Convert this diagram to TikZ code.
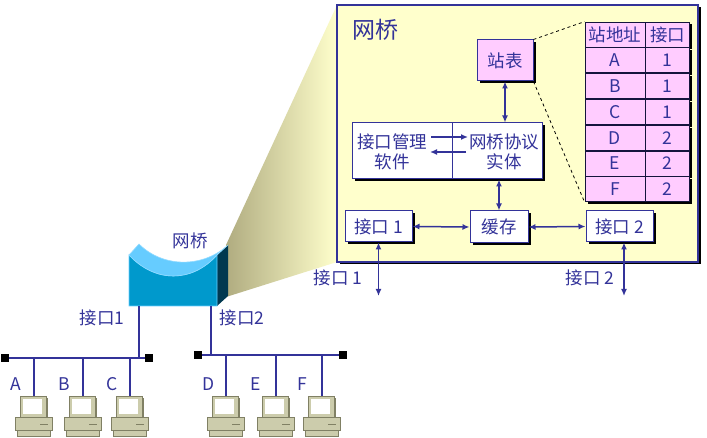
\documentclass[tikz,border=0pt]{standalone}
\usepackage{fontspec}
\setmainfont{Noto Sans CJK SC}
\usetikzlibrary{shadows,positioning,arrows.meta}

\definecolor{navy}{RGB}{51,51,153}
\definecolor{pinkfill}{RGB}{255,204,255}
\definecolor{boxyellow}{RGB}{255,255,204}
\definecolor{fanleft}{RGB}{176,172,128}
\definecolor{fanright}{RGB}{255,255,204}
\definecolor{bridgefront}{RGB}{0,153,204}
\definecolor{bridgetop}{RGB}{102,204,255}
\definecolor{bridgeside}{RGB}{0,56,80}
\definecolor{pcbody}{RGB}{204,204,172}
\definecolor{pcdark}{RGB}{128,128,100}

\tikzstyle{shadowed} = [drop shadow={shadow xshift=2.5pt, shadow yshift=-2.5pt, opacity=1, fill=black}]
\tikzstyle{zoombox} = [draw=navy, line width=1.2pt, fill=boxyellow, inner sep=0pt, minimum width=361pt, minimum height=257pt, shadowed]
\tikzstyle{box} = [draw=navy, line width=1pt, fill=white, text centered, inner sep=0pt, minimum height=31pt, shadowed]
\tikzstyle{pinkbox} = [box, fill=pinkfill]
\tikzstyle{cell} = [draw=black!60!navy, line width=0.8pt, fill=pinkfill, inner sep=0pt, minimum height=25pt, shadowed]
\tikzstyle{link} = [draw=navy, line width=1.5pt, {Latex[length=7pt,width=6pt]}-{Latex[length=7pt,width=6pt]}]
\tikzstyle{onelink} = [draw=navy, line width=1.5pt, -{Latex[length=7pt,width=6pt]}]
\tikzstyle{bus} = [draw=navy, line width=1.6pt]
\tikzstyle{term} = [fill=black, inner sep=0pt, minimum size=8pt]

\tikzset{
  pc/.pic={
    \coordinate (-top) at (0,0);
    \fill[pcdark] (-12,2) rectangle (14,23);
    \filldraw[fill=pcbody, draw=pcdark, line width=0.6pt] (-14,0) rectangle (12,21);
    \fill[white] (-11,3) rectangle (8,18);
    \filldraw[fill=pcbody, draw=pcdark, line width=0.6pt] (-19,21) rectangle (18,34);
    \filldraw[fill=pcbody, draw=pcdark, line width=0.6pt] (-17,34) rectangle (16,40);
    \draw[pcdark, line width=1pt] (6,28) -- (14,28);
  }
}

\begin{document}
\begin{tikzpicture}[x=1pt, y=-1pt, color=navy, font=\fontsize{17.5}{20}\selectfont]
  \useasboundingbox (0,0) rectangle (707,438);

  % beam from the bridge to the enlarged view
  \shade[left color=fanleft, right color=fanright] (226,245) -- (337,5) -- (337,262) -- (226,297) -- cycle;
  \node[zoombox] (zoom) at (517.5,133.5) {};
  \node[anchor=west, font=\fontsize{23}{27}\selectfont] (title) at (349,30) {网桥};

  % inside the bridge
  \node[pinkbox, minimum width=56pt, minimum height=41pt] (tab) at (505,60.5) {站表};
  \node[box, minimum width=190pt, minimum height=56pt] (mid) at (447,151) {};
  \draw[navy, line width=0.6pt] ([xshift=101pt]mid.north west) -- ([xshift=101pt]mid.south west);
  \node[align=center] (mgmttext) at (392,152) {接口管理\\软件};
  \node[align=center] (prototext) at (504,152) {网桥协议\\实体};
  \node[box, minimum width=58pt, minimum height=32pt] (buffer) at (499,227) {缓存};
  \node[box, minimum width=67pt] (if1) at (378.5,226.5) {接口 1};
  \node[box, minimum width=67pt] (if2) at (619.5,226.5) {接口 2};

  % station table
  \node[cell, minimum width=60pt] (h1) at (615,34.5) {站地址};
  \node[cell, minimum width=44pt, right=0pt of h1] (h2) {接口};
  \node[cell, minimum width=60pt, below=0pt of h1] (a1) {A};
  \node[cell, minimum width=44pt, right=0pt of a1] (a2) {1};
  \node[cell, minimum width=60pt, below=0pt of a1] (b1) {B};
  \node[cell, minimum width=44pt, right=0pt of b1] (b2) {1};
  \node[cell, minimum width=60pt, below=0pt of b1] (c1) {C};
  \node[cell, minimum width=44pt, right=0pt of c1] (c2) {1};
  \node[cell, minimum width=60pt, below=0pt of c1] (d1) {D};
  \node[cell, minimum width=44pt, right=0pt of d1] (d2) {2};
  \node[cell, minimum width=60pt, below=0pt of d1] (e1) {E};
  \node[cell, minimum width=44pt, right=0pt of e1] (e2) {2};
  \node[cell, minimum width=60pt, below=0pt of e1] (f1) {F};
  \node[cell, minimum width=44pt, right=0pt of f1] (f2) {2};

  \draw[dashed, black, line width=0.8pt] (tab.north east) -- (h1.north west);
  \draw[dashed, black, line width=0.8pt] (tab.south east) -- (f1.south west);

  \draw[link] (tab.south) -- (tab.south |- mid.north);
  \draw[onelink] (431,137) -- (468,137);
  \draw[onelink] (466,152) -- (430,152);
  \draw[link] (buffer.north |- mid.south) -- (buffer.north);
  \draw[link] (if1.east) -- (buffer.west);
  \draw[link] (buffer.east) -- (if2.west);

  \coordinate (out1) at (if1.south |- 0,296);
  \coordinate (out2) at (624,296);
  \draw[link] (if1.south) -- (out1);
  \draw[link] (if2.south -| out2) -- (out2);
  \node (out1label) at (338,278) {接口 1};
  \node (out2label) at (590,278) {接口 2};

  % bridge icon
  \fill[bridgeside] (217,255) -- (228,245) -- (228,296) -- (217,306) -- cycle;
  \filldraw[fill=bridgefront, draw=bridgetop, line width=0.6pt] (129,306) -- (129,255) .. controls (155,283) and (192,283) .. (217,255) -- (217,306) -- cycle;
  \filldraw[fill=bridgetop, draw=bridgetop!70!white, line width=0.6pt] (129,255) -- (139,244) .. controls (163,268) and (203,268) .. (228,245) -- (217,255) .. controls (192,283) and (155,283) .. (129,255);
  \node (bridgelabel) at (190,241) {网桥};
  \coordinate (br1) at (139,306);
  \coordinate (br2) at (211,306);
  \node (port1) at (102,318) {接口1};
  \node (port2) at (242,318) {接口2};

  % segment 1
  \node[term] (t1) at (5,358) {};
  \node[term] (t2) at (149,358) {};
  \draw[bus] (t1) -- (t2);
  \draw[bus] (br1) -- (br1 |- t1);
  \pic (pcA) at (34,396) {pc};
  \pic (pcB) at (83,396) {pc};
  \pic (pcC) at (130,396) {pc};
  \draw[bus] (pcA-top |- t1) -- (pcA-top);
  \draw[bus] (pcB-top |- t1) -- (pcB-top);
  \draw[bus] (pcC-top |- t1) -- (pcC-top);
  \node (la) at (16,384) {A};
  \node (lb) at (64,384) {B};
  \node (lc) at (112,384) {C};

  % segment 2
  \node[term] (t3) at (198,355) {};
  \node[term] (t4) at (343,355) {};
  \draw[bus] (t3) -- (t4);
  \draw[bus] (br2) -- (br2 |- t3);
  \pic (pcD) at (226,396) {pc};
  \pic (pcE) at (276,396) {pc};
  \pic (pcF) at (322,396) {pc};
  \draw[bus] (pcD-top |- t3) -- (pcD-top);
  \draw[bus] (pcE-top |- t3) -- (pcE-top);
  \draw[bus] (pcF-top |- t3) -- (pcF-top);
  \node (ld) at (209,384) {D};
  \node (le) at (256,384) {E};
  \node (lf) at (302,384) {F};
\end{tikzpicture}
\end{document}
